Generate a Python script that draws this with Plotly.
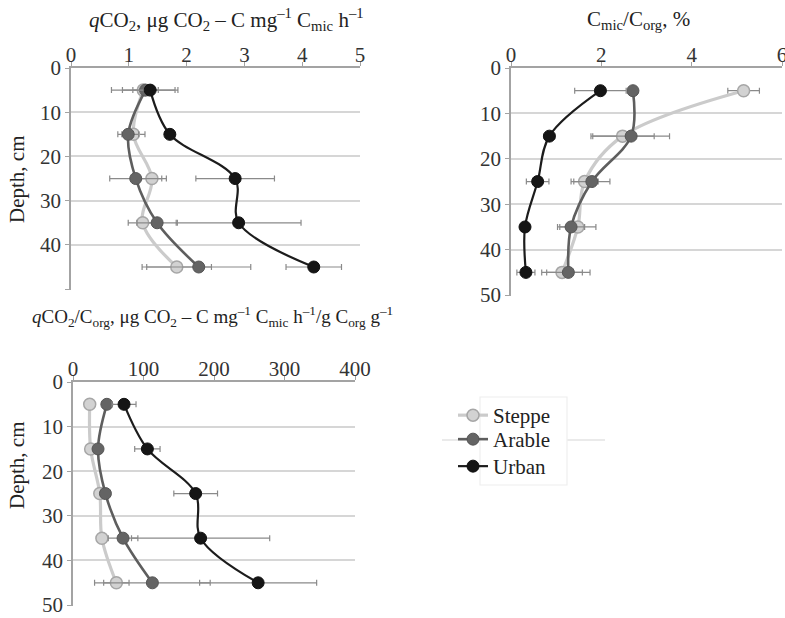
import plotly.graph_objects as go

W, H = 785, 618

depth = [5, 15, 25, 35, 45]
series_names = ["Steppe", "Arable", "Urban"]

# Panel 1: qCO2
qco2_steppe = [1.25, 1.08, 1.40, 1.24, 1.83]
qco2_arable = [1.29, 0.99, 1.12, 1.49, 2.21]
qco2_urban = [1.37, 1.71, 2.84, 2.90, 4.20]
qco2_steppe_err = [0.55, 0.20, 0.25, 0.25, 0.60]
qco2_arable_err = [0.22, 0.18, 0.45, 0.35, 0.90]
qco2_urban_err = [0.48, 0.05, 0.68, 1.08, 0.48]

# Panel 2: Cmic/Corg, %
cmic_steppe = [5.15, 2.47, 1.63, 1.48, 1.13]
cmic_arable = [2.70, 2.66, 1.79, 1.33, 1.27]
cmic_urban = [1.98, 0.85, 0.59, 0.31, 0.33]
cmic_steppe_err = [0.35, 0.70, 0.30, 0.40, 0.45]
cmic_arable_err = [0.06, 0.85, 0.40, 0.30, 0.48]
cmic_urban_err = [0.57, 0.12, 0.25, 0.05, 0.20]

# Panel 3: qCO2/Corg
q_corg_steppe = [23.7, 25.0, 38.0, 41.0, 61.5]
q_corg_arable = [48.0, 35.5, 46.0, 71.0, 112.6]
q_corg_urban = [72.4, 105.5, 174.0, 181.0, 262.6]
q_corg_steppe_err = [2, 2, 5, 3, 18]
q_corg_arable_err = [3, 3, 6, 21, 82]
q_corg_urban_err = [17, 18, 31, 98, 83]

styles = {
    "Steppe": dict(line=dict(color="#cbcbcb", width=3.2, shape="spline"),
                   marker=dict(size=12, color="#d2d2d2", line=dict(color="#a6a6a6", width=1.5))),
    "Arable": dict(line=dict(color="#5e5e5e", width=2.6, shape="spline"),
                   marker=dict(size=12, color="#646464", line=dict(color="#555555", width=1))),
    "Urban": dict(line=dict(color="#1c1c1c", width=2.2, shape="spline"),
                  marker=dict(size=12, color="#151515", line=dict(color="#111111", width=1))),
}
legend_ids = {"Steppe": "legend", "Arable": "legend2", "Urban": "legend3"}

fig = go.Figure()

panels = [
    ("x", "y", [qco2_steppe, qco2_arable, qco2_urban], [qco2_steppe_err, qco2_arable_err, qco2_urban_err], False),
    ("x2", "y2", [cmic_steppe, cmic_arable, cmic_urban], [cmic_steppe_err, cmic_arable_err, cmic_urban_err], False),
    ("x3", "y3", [q_corg_steppe, q_corg_arable, q_corg_urban], [q_corg_steppe_err, q_corg_arable_err, q_corg_urban_err], True),
]

for xa, ya, vals, errs, show in panels:
    for name, v, e in zip(series_names, vals, errs):
        st = styles[name]
        fig.add_trace(go.Scatter(
            x=v, y=depth, xaxis=xa, yaxis=ya, name=name, mode="lines+markers",
            line=st["line"], marker=st["marker"], showlegend=show, legend=legend_ids[name],
            error_x=dict(type="data", array=e, visible=True, color="#8a8a8a", thickness=1.2, width=3),
        ))

def px_x(p):
    return p / W

def px_y(p):
    return 1 - p / H

FONT = "Liberation Serif"
axis_common = dict(showline=True, linecolor="#a3a3a3", linewidth=1.5, ticks="outside", ticklen=4,
                   tickcolor="#a3a3a3", tickfont=dict(family=FONT, size=21, color="#333333"),
                   zeroline=False, automargin=False, ticklabeloverflow="allow")
xcommon = dict(showgrid=False, side="top", ticklabelstandoff=-8, **axis_common)
grid = dict(showgrid=True, gridcolor="#d6d6d6", gridwidth=1.5)

leg_common = dict(xanchor="left", yanchor="top", bgcolor="rgba(0,0,0,0)", borderwidth=0,
                  font=dict(family=FONT, size=21, color="#222222"))

fig.update_layout(
    template="none",
    width=W, height=H, margin=dict(l=0, r=0, t=0, b=0, autoexpand=False),
    paper_bgcolor="white", plot_bgcolor="white",
    font=dict(family=FONT, size=21, color="#333333"),
    xaxis=dict(domain=[px_x(71), px_x(360)], anchor="y", range=[0, 5], dtick=1, **xcommon),
    yaxis=dict(domain=[px_y(290), px_y(68)], anchor="x", range=[50.2, 0],
               tickvals=[0, 10, 20, 30, 40, 50], ticktext=["0", "10", "20", "30", "40", ""],
               **grid, **axis_common),
    xaxis2=dict(domain=[px_x(511), px_x(782)], anchor="y2", range=[0, 6], dtick=2, **xcommon),
    yaxis2=dict(domain=[px_y(296), px_y(68)], anchor="x2", range=[50.2, 0], dtick=10,
                **grid, **axis_common),
    xaxis3=dict(domain=[px_x(73), px_x(355)], anchor="y3", range=[0, 400], dtick=100, **xcommon),
    yaxis3=dict(domain=[px_y(606), px_y(382)], anchor="x3", range=[50.2, 0], dtick=10,
                **grid, **axis_common),
    legend=dict(x=px_x(453), y=px_y(395), **leg_common),
    legend2=dict(x=px_x(453), y=px_y(419), **leg_common),
    legend3=dict(x=px_x(453), y=px_y(446), **leg_common),
    showlegend=True,
)

# faint guide line and legend box as in the reference
fig.add_shape(type="line", xref="paper", yref="paper", x0=px_x(442), x1=px_x(605),
              y0=px_y(440), y1=px_y(440), line=dict(color="#e3e3e3", width=1.5), layer="above")
fig.add_shape(type="rect", xref="paper", yref="paper", x0=px_x(480), x1=px_x(567),
              y0=px_y(485), y1=px_y(397), line=dict(color="#eeeeee", width=1.2),
              fillcolor="white", layer="above")

annos = [
    (226, 20, "<i>q</i>CO<sub>2</sub>, μg CO<sub>2</sub> – C mg<sup>–1</sup> C<sub>mic</sub> h<sup>–1</sup>", 0, 21),
    (638, 20, "C<sub>mic</sub>/C<sub>org</sub>, %", 0, 21),
    (212, 316, "<i>q</i>CO<sub>2</sub>/C<sub>org</sub>, μg CO<sub>2</sub> – C mg<sup>–1</sup> C<sub>mic</sub> h<sup>–1</sup>/g C<sub>org</sub> g<sup>–1</sup>", 0, 19),
    (17, 180, "Depth, cm", -90, 21),
    (17, 466, "Depth, cm", -90, 21),
]
for x, y, t, ang, fs in annos:
    fig.add_annotation(x=px_x(x), y=px_y(y), xref="paper", yref="paper", text=t, showarrow=False,
                       textangle=ang, xanchor="center", yanchor="middle",
                       font=dict(family=FONT, size=fs, color="#222222"))

fig.write_html("out.html")
